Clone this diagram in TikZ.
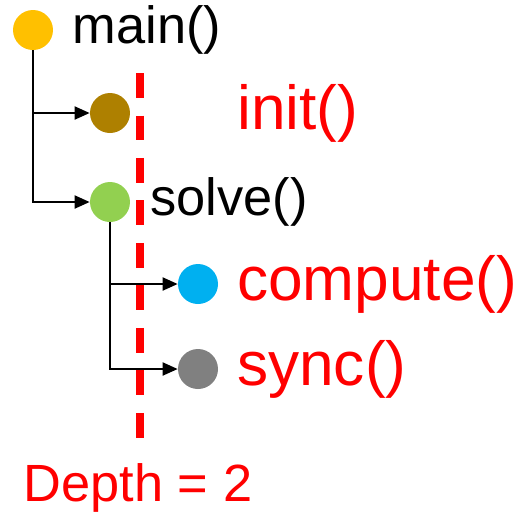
\documentclass[tikz,border=0pt]{standalone}
\usepackage{fontspec}
\setmainfont{Liberation Sans}
\usetikzlibrary{arrows.meta,positioning}

\begin{document}
\begin{tikzpicture}[x=0.02cm,y=-0.02cm,
        dot/.style={circle, minimum size=0.8cm, inner sep=0pt},
        call/.style={inner sep=0pt, anchor=west, font=\fontsize{29.8}{34}\selectfont},
        hot/.style={inner sep=0pt, anchor=west, text=red, font=\fontsize{35.4}{40}\selectfont},
        callarrow/.style={line width=1.1pt, -{Triangle[length=0.3cm,width=0.26cm]}}]
        \useasboundingbox (0,0) rectangle (526,512);

        % main and its two callees
        \node[dot, fill={rgb,255:red,255;green,192;blue,0}] (main) at (33,30) {};
        \node[call, right=0.38cm of main] (lmain) {main()};
        \node[dot, fill={rgb,255:red,174;green,128;blue,0}] (init) at (110,113) {};
        \node[dot, fill={rgb,255:red,146;green,208;blue,80}] (solve) at (110,202) {};
        \node[call, right=0.4cm of solve] (lsolve) {solve()};
        \draw[callarrow] (main.south) |- (init.west);
        \draw[callarrow] (main.south) |- (solve.west);

        % solve calls
        \node[dot, fill={rgb,255:red,0;green,176;blue,240}] (comp) at (198,284) {};
        \node[hot, right=0.37cm of comp] (lcomp) {compute()};
        \node[dot, fill={rgb,255:red,128;green,128;blue,128}] (sync) at (198,369) {};
        \node[hot, right=0.37cm of sync] (lsync) {sync()};
        \node[hot] (linit) at (lcomp.west |- init) {init()};
        \draw[callarrow] (solve.south) |- (comp.west);
        \draw[callarrow] (solve.south) |- (sync.west);

        % depth cut
        \coordinate (cuttop) at (140,73);
        \coordinate (cutbot) at (140,438);
        \draw[red, line width=4pt, dash pattern=on 0.5cm off 0.35cm] (cuttop) -- (cutbot);
        \node[inner sep=0pt, text=red, font=\fontsize{29.8}{34}\selectfont] (depth) at (138,488) {Depth = 2};
    \end{tikzpicture}
\end{document}
